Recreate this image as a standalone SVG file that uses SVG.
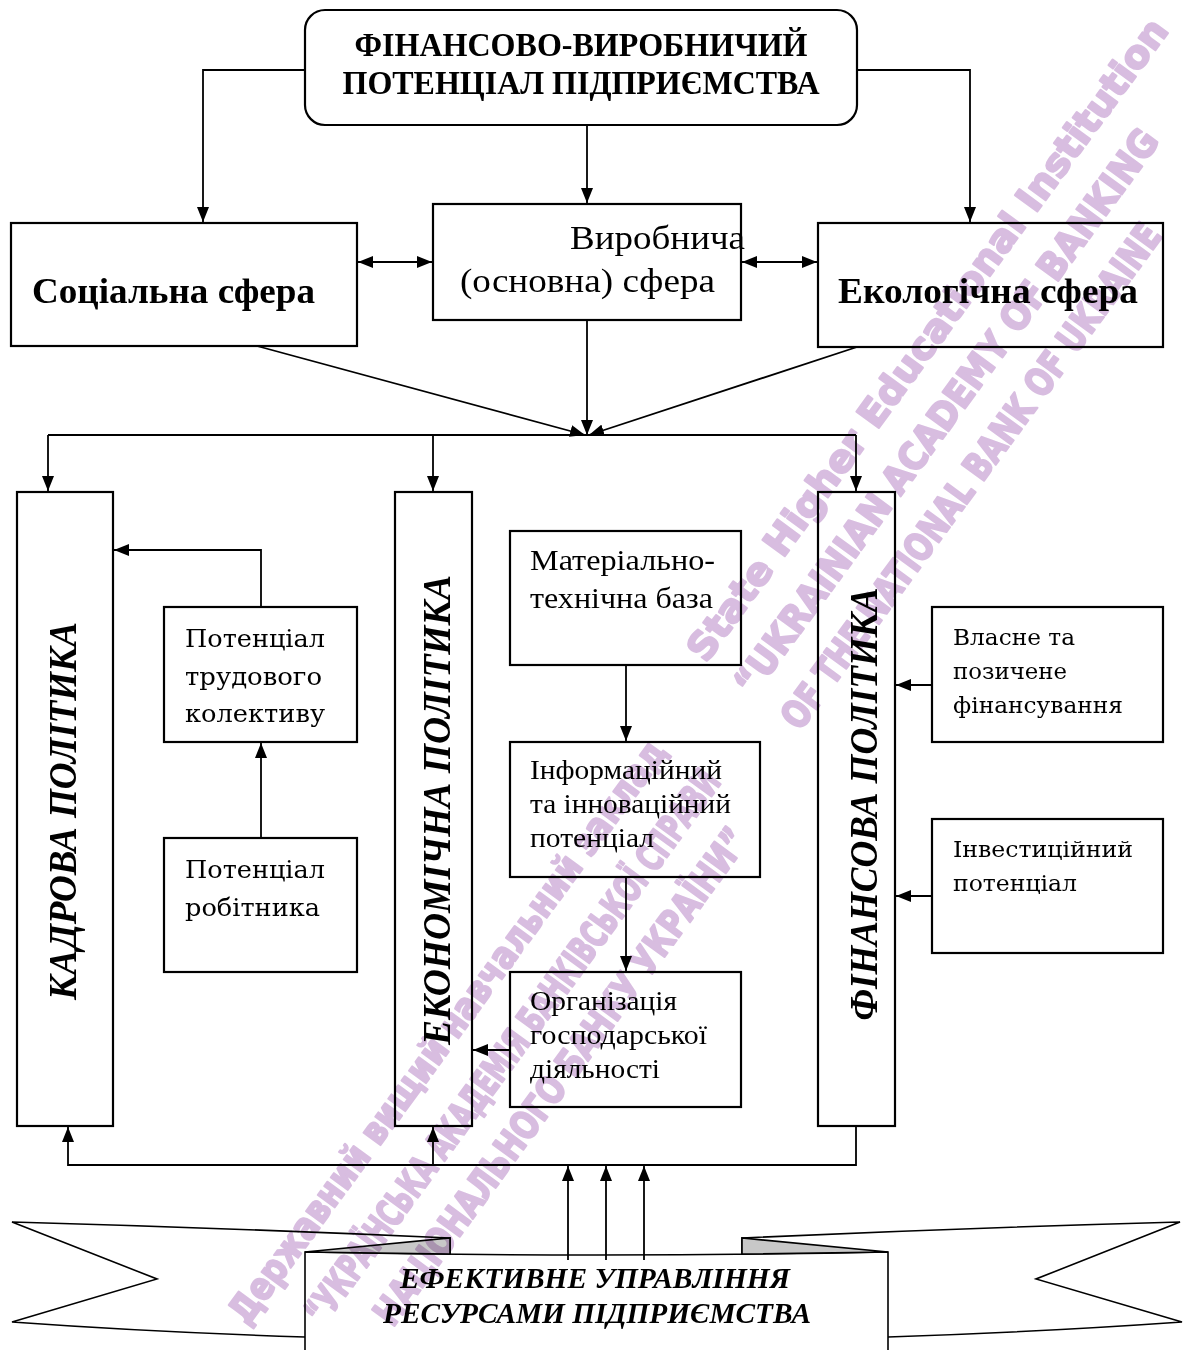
<svg xmlns="http://www.w3.org/2000/svg" width="1188" height="1350" viewBox="0 0 1188 1350">
<defs>
<marker id="ah" viewBox="0 0 15 12" markerWidth="15" markerHeight="12" refX="15" refY="6" orient="auto-start-reverse" markerUnits="userSpaceOnUse"><path d="M0,0 L15,6 L0,12 Z" fill="#000"/></marker>
<style>
.box{fill:#fff;stroke:#000;stroke-width:2.2}
.rib{fill:#fff;stroke:#000;stroke-width:1.6}
.fold{fill:#c8c8c8;stroke:#000;stroke-width:1.6}
.ln{fill:none;stroke:#000;stroke-width:1.8}
.arr{marker-end:url(#ah)}
.dbl{marker-start:url(#ah);marker-end:url(#ah)}
.tb{font-family:"Liberation Serif",serif;font-weight:bold;fill:#000}
.tr{font-family:"Liberation Serif",serif;fill:#000}
.tw{font-family:"DejaVu Serif",serif;fill:#000}
.vt{font-family:"Liberation Serif",serif;font-weight:bold;font-style:italic;font-size:39px;fill:#000}
.bt{font-family:"Liberation Serif",serif;font-weight:bold;font-style:italic;font-size:29px;fill:#000}
.wm{font-family:"DejaVu Sans",sans-serif;font-weight:bold;font-size:38px;fill:#d8bde0;stroke:#d8bde0;stroke-width:2.2;stroke-linejoin:round;mix-blend-mode:multiply}
</style>
</defs>
<rect x="0" y="0" width="1188" height="1350" fill="#fff"/>

<g id="top">
<rect class="box" x="305" y="10" width="552" height="115" rx="20"/>
<text class="tb" x="581" y="56" font-size="33" text-anchor="middle" textLength="453" lengthAdjust="spacingAndGlyphs">ФІНАНСОВО-ВИРОБНИЧИЙ</text>
<text class="tb" x="581" y="94" font-size="33" text-anchor="middle" textLength="477" lengthAdjust="spacingAndGlyphs">ПОТЕНЦІАЛ ПІДПРИЄМСТВА</text>
</g>

<g id="social">
<rect class="box" x="11" y="223" width="346" height="123"/>
<text class="tb" x="32" y="303" font-size="35" textLength="283" lengthAdjust="spacingAndGlyphs">Соціальна сфера</text>
</g>

<g id="production">
<rect class="box" x="433" y="204" width="308" height="116"/>
<text class="tr" x="570" y="249" font-size="34" textLength="175" lengthAdjust="spacingAndGlyphs">Виробнича</text>
<text class="tr" x="460" y="292" font-size="34" textLength="255" lengthAdjust="spacingAndGlyphs">(основна) сфера</text>
</g>

<g id="ecology">
<rect class="box" x="818" y="223" width="345" height="124"/>
<text class="tb" x="838" y="303" font-size="35" textLength="300" lengthAdjust="spacingAndGlyphs">Екологічна сфера</text>
</g>

<g id="kadrova">
<rect class="box" x="17" y="492" width="96" height="634"/>
<text class="vt" transform="translate(76,811) rotate(-90)" text-anchor="middle" textLength="378" lengthAdjust="spacingAndGlyphs">КАДРОВА ПОЛІТИКА</text>
</g>

<g id="ekonomichna">
<rect class="box" x="395" y="492" width="77" height="634"/>
<text class="vt" transform="translate(450,810) rotate(-90)" text-anchor="middle" textLength="470" lengthAdjust="spacingAndGlyphs">ЕКОНОМІЧНА ПОЛІТИКА</text>
</g>

<g id="finansova">
<rect class="box" x="818" y="492" width="77" height="634"/>
<text class="vt" transform="translate(877,804) rotate(-90)" text-anchor="middle" textLength="433" lengthAdjust="spacingAndGlyphs">ФІНАНСОВА ПОЛІТИКА</text>
</g>

<g id="trud">
<rect class="box" x="164" y="607" width="193" height="135"/>
<text class="tw" x="185" y="647" font-size="25" textLength="140" lengthAdjust="spacingAndGlyphs">Потенціал</text>
<text class="tw" x="185" y="685" font-size="25" textLength="137" lengthAdjust="spacingAndGlyphs">трудового</text>
<text class="tw" x="185" y="722" font-size="25" textLength="140" lengthAdjust="spacingAndGlyphs">колективу</text>
</g>

<g id="robitnyk">
<rect class="box" x="164" y="838" width="193" height="134"/>
<text class="tw" x="185" y="878" font-size="25" textLength="140" lengthAdjust="spacingAndGlyphs">Потенціал</text>
<text class="tw" x="185" y="916" font-size="25" textLength="135" lengthAdjust="spacingAndGlyphs">робітника</text>
</g>

<g id="material">
<rect class="box" x="510" y="531" width="231" height="134"/>
<text class="tr" x="530" y="570" font-size="29" textLength="185" lengthAdjust="spacingAndGlyphs">Матеріально-</text>
<text class="tr" x="530" y="608" font-size="29" textLength="183" lengthAdjust="spacingAndGlyphs">технічна база</text>
</g>

<g id="inform">
<rect class="box" x="510" y="742" width="250" height="135"/>
<text class="tr" x="530" y="779" font-size="27" textLength="192" lengthAdjust="spacingAndGlyphs">Інформаційний</text>
<text class="tr" x="530" y="813" font-size="27" textLength="201" lengthAdjust="spacingAndGlyphs">та інноваційний</text>
<text class="tr" x="530" y="847" font-size="27" textLength="124" lengthAdjust="spacingAndGlyphs">потенціал</text>
</g>

<g id="organiz">
<rect class="box" x="510" y="972" width="231" height="135"/>
<text class="tr" x="530" y="1010" font-size="27" textLength="147" lengthAdjust="spacingAndGlyphs">Організація</text>
<text class="tr" x="530" y="1044" font-size="27" textLength="177" lengthAdjust="spacingAndGlyphs">господарської</text>
<text class="tr" x="530" y="1078" font-size="27" textLength="130" lengthAdjust="spacingAndGlyphs">діяльності</text>
</g>

<g id="vlasne">
<rect class="box" x="932" y="607" width="231" height="135"/>
<text class="tw" x="953" y="645" font-size="22" textLength="122" lengthAdjust="spacingAndGlyphs">Власне та</text>
<text class="tw" x="953" y="679" font-size="22" textLength="114" lengthAdjust="spacingAndGlyphs">позичене</text>
<text class="tw" x="953" y="713" font-size="22" textLength="170" lengthAdjust="spacingAndGlyphs">фінансування</text>
</g>

<g id="invest">
<rect class="box" x="932" y="819" width="231" height="134"/>
<text class="tw" x="953" y="857" font-size="22" textLength="180" lengthAdjust="spacingAndGlyphs">Інвестиційний</text>
<text class="tw" x="953" y="891" font-size="22" textLength="124" lengthAdjust="spacingAndGlyphs">потенціал</text>
</g>

<g id="banner">
<path class="rib" d="M12,1222 Q230,1228 450,1238 L450,1340 L305,1337 Q150,1332 12,1322 L157,1279 Z"/>
<path class="rib" d="M1180,1222 Q960,1228 742,1238 L742,1340 L888,1337 Q1040,1332 1182,1322 L1036,1279 Z"/>
<path class="rib" d="M305,1252 Q596,1258 888,1252 L888,1355 L305,1355 Z"/>
<path class="fold" d="M305,1252 L450,1238 L450,1254 Q380,1253 305,1252 Z"/>
<path class="fold" d="M888,1252 L742,1238 L742,1254 Q815,1253 888,1252 Z"/>
<text class="bt" x="595" y="1288" text-anchor="middle" textLength="390" lengthAdjust="spacingAndGlyphs">ЕФЕКТИВНЕ УПРАВЛІННЯ</text>
<text class="bt" x="597" y="1323" text-anchor="middle" textLength="428" lengthAdjust="spacingAndGlyphs">РЕСУРСАМИ ПІДПРИЄМСТВА</text>
</g>

<g id="connectors">
<polyline class="ln arr" points="305,70 203,70 203,222"/>
<polyline class="ln arr" points="857,70 970,70 970,222"/>
<line class="ln arr" x1="587" y1="125" x2="587" y2="203"/>
<line class="ln dbl" x1="358" y1="262" x2="432" y2="262"/>
<line class="ln dbl" x1="742" y1="262" x2="817" y2="262"/>
<line class="ln arr" x1="257" y1="346" x2="585" y2="435"/>
<line class="ln arr" x1="587" y1="320" x2="587" y2="435"/>
<line class="ln arr" x1="857" y1="347" x2="589" y2="435"/>
<line class="ln" x1="48" y1="435" x2="856" y2="435"/>
<line class="ln arr" x1="48" y1="435" x2="48" y2="491"/>
<line class="ln arr" x1="433" y1="435" x2="433" y2="491"/>
<line class="ln arr" x1="856" y1="435" x2="856" y2="491"/>
<polyline class="ln arr" points="261,607 261,550 114,550"/>
<line class="ln arr" x1="261" y1="838" x2="261" y2="743"/>
<line class="ln arr" x1="626" y1="665" x2="626" y2="741"/>
<line class="ln arr" x1="626" y1="877" x2="626" y2="971"/>
<line class="ln arr" x1="510" y1="1050" x2="473" y2="1050"/>
<line class="ln arr" x1="932" y1="685" x2="896" y2="685"/>
<line class="ln arr" x1="932" y1="896" x2="896" y2="896"/>
<polyline class="ln arr" points="856,1126 856,1165 68,1165 68,1127"/>
<line class="ln arr" x1="433" y1="1165" x2="433" y2="1127"/>
<line class="ln arr" x1="568" y1="1260" x2="568" y2="1166"/>
<line class="ln arr" x1="606" y1="1260" x2="606" y2="1166"/>
<line class="ln arr" x1="644" y1="1260" x2="644" y2="1166"/>
</g>

<g id="watermark">
<text class="wm" transform="translate(706,664) rotate(-53.8)" textLength="785" lengthAdjust="spacingAndGlyphs">State Higher Educational Institution</text>
<text class="wm" transform="translate(753,698) rotate(-53.8)" font-size="33" textLength="690" lengthAdjust="spacingAndGlyphs">“UKRAINIAN ACADEMY OF BANKING</text>
<text class="wm" transform="translate(800,732) rotate(-53.8)" font-size="30" textLength="615" lengthAdjust="spacingAndGlyphs">OF THE NATIONAL BANK OF UKRAINE</text>
<text class="wm" transform="translate(668,752) rotate(-53.8)" text-anchor="end" textLength="712" lengthAdjust="spacingAndGlyphs">Державний вищий навчальний заклад</text>
<text class="wm" transform="translate(722,782) rotate(-53.8)" text-anchor="end" font-size="31" textLength="675" lengthAdjust="spacingAndGlyphs">“УКРАЇНСЬКА АКАДЕМІЯ БАНКІВСЬКОЇ СПРАВИ</text>
<text class="wm" transform="translate(750,840) rotate(-53.8)" text-anchor="end" font-size="34" textLength="605" lengthAdjust="spacingAndGlyphs">НАЦІОНАЛЬНОГО БАНКУ УКРАЇНИ”</text>
</g>
</svg>
